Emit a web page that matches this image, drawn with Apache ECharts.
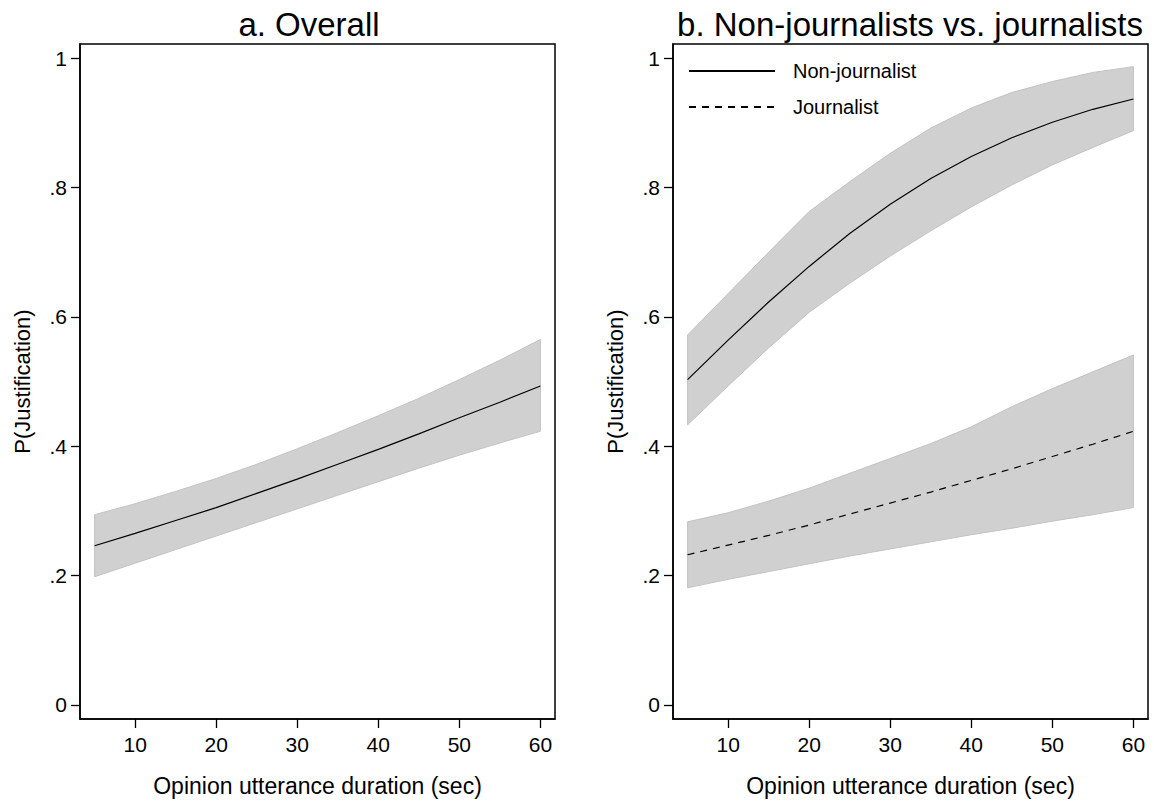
<!DOCTYPE html>
<html>
<head>
<meta charset="utf-8">
<title>P(Justification) by opinion utterance duration</title>
<script src="https://cdn.jsdelivr.net/npm/echarts@6/dist/echarts.min.js"></script>
<style>
  html, body { margin: 0; padding: 0; background: #fff; }
  #chart { width: 1154px; height: 805px; }
</style>
</head>
<body>
<div id="chart"></div>
<script>
// predicted margins
const durations = [5, 10, 15, 20, 25, 30, 35, 40, 45, 50, 55, 60]

// a. Overall
const overallFit   = [0.246, 0.265, 0.285, 0.305, 0.327, 0.349, 0.372, 0.395, 0.419, 0.444, 0.468, 0.493]
const overallUpper = [0.294, 0.311, 0.330, 0.350, 0.372, 0.396, 0.421, 0.447, 0.474, 0.503, 0.533, 0.565]
const overallLower = [0.198, 0.219, 0.240, 0.261, 0.282, 0.303, 0.324, 0.345, 0.366, 0.386, 0.405, 0.423]

// b. Non-journalists vs. journalists
const nonJournFit   = [0.503, 0.564, 0.623, 0.678, 0.729, 0.774, 0.814, 0.848, 0.877, 0.901, 0.921, 0.937]
const nonJournUpper = [0.572, 0.636, 0.700, 0.763, 0.809, 0.853, 0.892, 0.923, 0.947, 0.964, 0.978, 0.987]
const nonJournLower = [0.433, 0.493, 0.552, 0.607, 0.652, 0.694, 0.733, 0.770, 0.804, 0.835, 0.862, 0.888]

const journFit   = [0.232, 0.247, 0.262, 0.278, 0.295, 0.312, 0.329, 0.347, 0.365, 0.384, 0.403, 0.423]
const journUpper = [0.283, 0.297, 0.315, 0.335, 0.358, 0.381, 0.404, 0.430, 0.461, 0.489, 0.515, 0.541]
const journLower = [0.181, 0.194, 0.206, 0.218, 0.230, 0.241, 0.252, 0.263, 0.273, 0.284, 0.294, 0.305]

const xTicks = [10, 20, 30, 40, 50, 60]
const yTicks = [0, 0.2, 0.4, 0.6, 0.8, 1]
const yTickLabels = ['0', '.2', '.4', '.6', '.8', '1']

const panelTitles = ['a. Overall', 'b. Non-journalists vs. journalists']
const xTitle = 'Opinion utterance duration (sec)'
const yTitle = 'P(Justification)'
const seriesNames = ['Non-journalist', 'Journalist']

const FONT = '"Liberation Sans", Arial, Helvetica, sans-serif'

function xAxis(idx) {
  return {
    gridIndex: idx,
    type: 'value',
    min: 3.2,
    max: 61.8,
    axisLine: { show: true, onZero: false, lineStyle: { color: '#000', width: 1.5 } },
    axisTick: { show: true, length: 9, customValues: xTicks, lineStyle: { color: '#000', width: 1.3 } },
    axisLabel: { customValues: xTicks, margin: 15, fontSize: 21, color: '#000', fontFamily: FONT },
    splitLine: { show: false },
    name: xTitle,
    nameLocation: 'middle',
    nameGap: 55,
    nameTextStyle: { fontSize: 23, color: '#000', fontFamily: FONT }
  }
}

function yAxis(idx) {
  return {
    gridIndex: idx,
    type: 'value',
    min: -0.022,
    max: 1.022,
    axisLine: { show: true, lineStyle: { color: '#000', width: 1.5 } },
    axisTick: { show: true, length: 9, customValues: yTicks, lineStyle: { color: '#000', width: 1.3 } },
    axisLabel: {
      customValues: yTicks,
      margin: 13,
      fontSize: 21,
      color: '#000',
      fontFamily: FONT,
      formatter: v => yTickLabels[yTicks.findIndex(t => Math.abs(t - v) < 1e-9)]
    },
    splitLine: { show: false },
    name: yTitle,
    nameLocation: 'middle',
    nameGap: 47,
    nameTextStyle: { fontSize: 22, color: '#000', fontFamily: FONT }
  }
}

// confidence band drawn as a polygon through the axis scales
function band(idx, upper, lower) {
  return {
    type: 'custom',
    xAxisIndex: idx,
    yAxisIndex: idx,
    silent: true,
    z: 1,
    data: [[durations[0], lower[0]]],
    renderItem: (params, api) => {
      const pts = durations.map((d, i) => api.coord([d, upper[i]]))
      for (let i = durations.length - 1; i >= 0; i--) {
        pts.push(api.coord([durations[i], lower[i]]))
      }
      return {
        type: 'polygon',
        shape: { points: pts },
        style: { fill: '#d0d0d0', stroke: '#c3c3c3', lineWidth: 1 }
      }
    }
  }
}

function fitLine(idx, name, values, dashed) {
  return {
    type: 'line',
    name: name,
    xAxisIndex: idx,
    yAxisIndex: idx,
    z: 3,
    symbol: 'none',
    silent: true,
    data: durations.map((d, i) => [d, values[i]]),
    lineStyle: { color: '#000', width: 1.2, type: dashed ? [7, 6] : 'solid' },
    itemStyle: { color: '#000' }
  }
}

const chart = echarts.init(document.getElementById('chart'), null, { renderer: 'svg' })

chart.setOption({
  animation: false,
  backgroundColor: '#fff',
  title: [
    {
      text: panelTitles[0], left: 304, top: 3, textAlign: 'center',
      textStyle: { fontSize: 33, fontWeight: 'normal', color: '#000', fontFamily: FONT }
    },
    {
      text: panelTitles[1], left: 905, top: 3, textAlign: 'center',
      textStyle: { fontSize: 33, fontWeight: 'normal', color: '#000', fontFamily: FONT }
    }
  ],
  legend: {
    data: seriesNames,
    orient: 'vertical',
    left: 683,
    top: 56,
    itemWidth: 86,
    itemHeight: 14,
    itemGap: 16,
    selectedMode: false,
    itemStyle: { color: 'transparent', borderColor: 'transparent', borderWidth: 0 },
    textStyle: { fontSize: 20, color: '#000', fontFamily: FONT, padding: [0, 0, 0, 13] }
  },
  grid: [
    { left: 80, right: 599, top: 44, bottom: 86, show: true, borderColor: '#000', borderWidth: 1.5, backgroundColor: 'transparent' },
    { left: 673, right: 6, top: 44, bottom: 86, show: true, borderColor: '#000', borderWidth: 1.5, backgroundColor: 'transparent' }
  ],
  xAxis: [xAxis(0), xAxis(1)],
  yAxis: [yAxis(0), yAxis(1)],
  series: [
    band(0, overallUpper, overallLower),
    fitLine(0, 'Overall', overallFit, false),
    band(1, nonJournUpper, nonJournLower),
    band(1, journUpper, journLower),
    fitLine(1, seriesNames[0], nonJournFit, false),
    fitLine(1, seriesNames[1], journFit, true)
  ]
})
</script>
</body>
</html>
